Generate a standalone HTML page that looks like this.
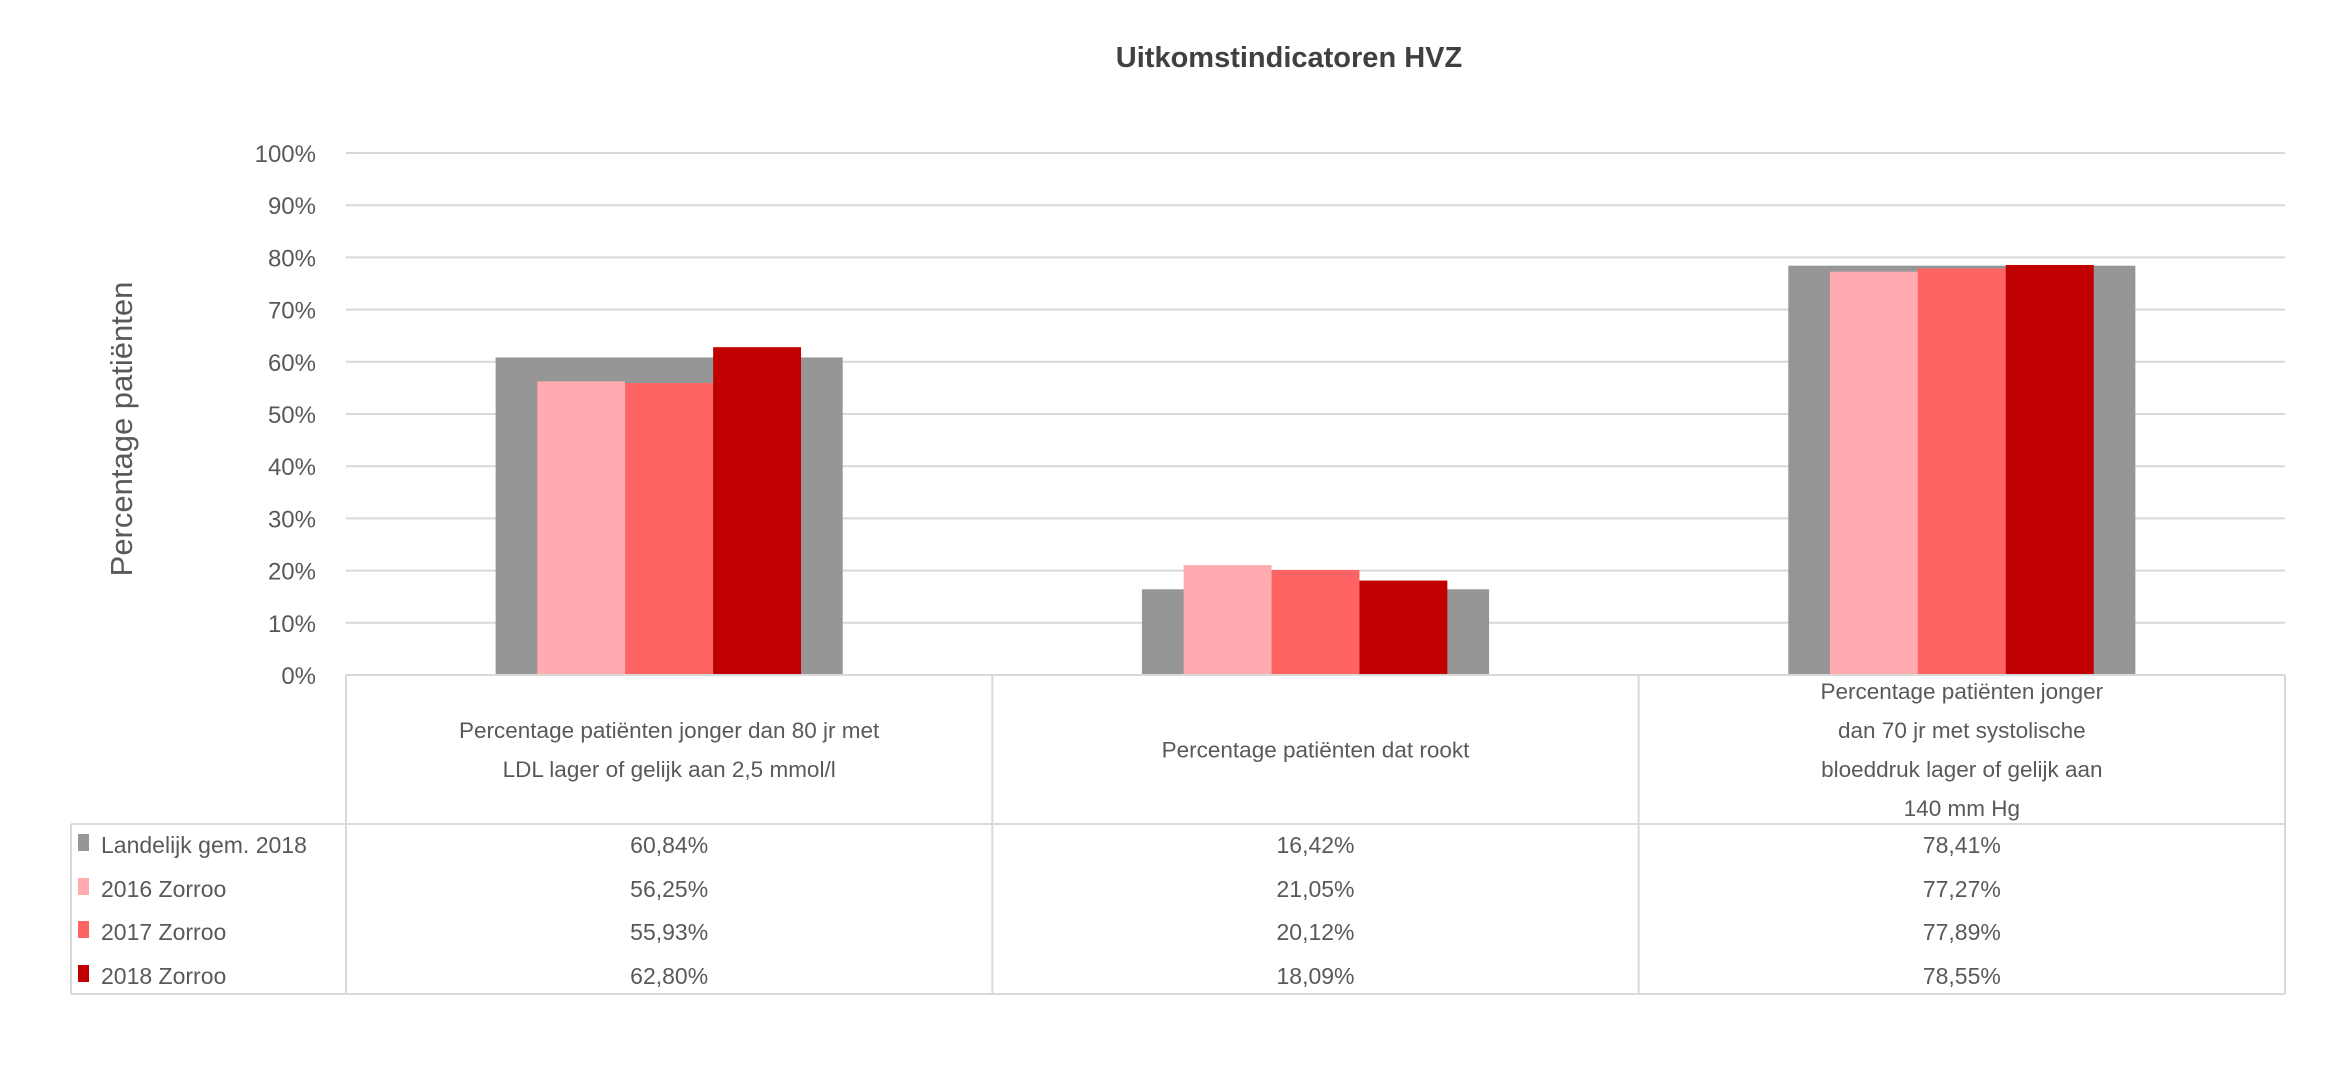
<!DOCTYPE html>
<html><head><meta charset="utf-8"><style>
body{margin:0;background:#fff;}
svg text{font-family:"Liberation Sans",sans-serif;fill:#595959;}
</style></head><body>
<svg id="chart" width="2346" height="1069" xmlns="http://www.w3.org/2000/svg">
<text x="1289" y="67" text-anchor="middle" font-size="29" font-weight="bold" style="fill:#404040">Uitkomstindicatoren HVZ</text>
<text transform="translate(132,429) rotate(-90)" text-anchor="middle" font-size="31">Percentage patiënten</text>
<g id="grid"></g><g id="bars"></g><g id="table"></g>
</svg>
<script>
const categories=[["Percentage patiënten jonger dan 80 jr met","LDL lager of gelijk aan 2,5 mmol/l"],["Percentage patiënten dat rookt"],["Percentage patiënten jonger","dan 70 jr met systolische","bloeddruk lager of gelijk aan","140 mm Hg"]];
const seriesNames=["Landelijk gem. 2018","2016 Zorroo","2017 Zorroo","2018 Zorroo"];
const landelijk=[60.84,16.42,78.41];
const z2016=[56.25,21.05,77.27];
const z2017=[55.93,20.12,77.89];
const z2018=[62.80,18.09,78.55];
const yTicks=[0,10,20,30,40,50,60,70,80,90,100];
const colors=["#969696","#ffabb0","#ff6464","#c00000"];
const NS="http://www.w3.org/2000/svg";
const L=346,R=2285,Y0=675,Y1=153,TB=994,HB=824,TL=71;
const cw=(R-L)/categories.length;
const y=v=>Y0-(v/100)*(Y0-Y1);
const xc=i=>L+cw*(i+0.5);
function mk(t,a,p){const e=document.createElementNS(NS,t);for(const k in a)e.setAttribute(k,a[k]);p.appendChild(e);return e;}
const grid=document.getElementById('grid'),bars=document.getElementById('bars'),tb=document.getElementById('table');
yTicks.forEach(t=>{
 const l=mk('line',{x1:L,x2:R,y1:y(t),y2:y(t),stroke:'#d9d9d9','stroke-width':2},grid);
 
 
 const tx=mk('text',{x:316,y:y(t)+9,'text-anchor':'end','font-size':24},grid);
 tx.textContent=t+'%';
 
 
});
const series=[landelijk,z2016,z2017,z2018];
categories.forEach((c,i)=>{
 const gw=cw*0.537;
 const g=mk('rect',{x:xc(i)-gw/2,y:y(landelijk[i]),width:gw,height:Y0-y(landelijk[i]),fill:colors[0]},bars);
 
 
 const bw=cw*0.136;
 for(let s=1;s<4;s++){
  const v=series[s][i];
  const r=mk('rect',{x:xc(i)-1.5*bw+(s-1)*bw,y:y(v),width:bw,height:Y0-y(v),fill:colors[s]},bars);
  
  
 }
});
// table lines
const st={stroke:'#d9d9d9','stroke-width':2};
[[L,Y0,L,TB],[L+cw,Y0,L+cw,TB],[L+2*cw,Y0,L+2*cw,TB],[R,Y0,R,TB],[TL,HB,R,HB],[TL,TB,R,TB],[TL,HB,TL,TB],[L,Y0,R,Y0]].forEach(a=>{
 const l=mk('line',Object.assign({x1:a[0],y1:a[1],x2:a[2],y2:a[3]},st),tb);
 
 
});
categories.forEach((c,i)=>{
 const mid=(Y0+HB)/2, lh=39;
 c.forEach((ln,j)=>{
  const t=mk('text',{x:xc(i),y:mid-(c.length-1)*lh/2+j*lh+8,'text-anchor':'middle','font-size':22.5},tb);
  t.textContent=ln;
  
  
 });
});
const rowY=[845,889,932,976];
seriesNames.forEach((n,s)=>{
 const sq=mk('rect',{x:78,y:rowY[s]-11,width:11,height:17,fill:colors[s]},tb);
 
 
 const t=mk('text',{x:101,y:rowY[s]+8,'font-size':23},tb);
 t.textContent=n;
 
 
 series[s].forEach((v,i)=>{
  const vt=mk('text',{x:xc(i),y:rowY[s]+8,'text-anchor':'middle','font-size':23},tb);
  vt.textContent=v.toFixed(2).replace('.',',')+'%';
  
  
 });
});
</script>
</body></html>
